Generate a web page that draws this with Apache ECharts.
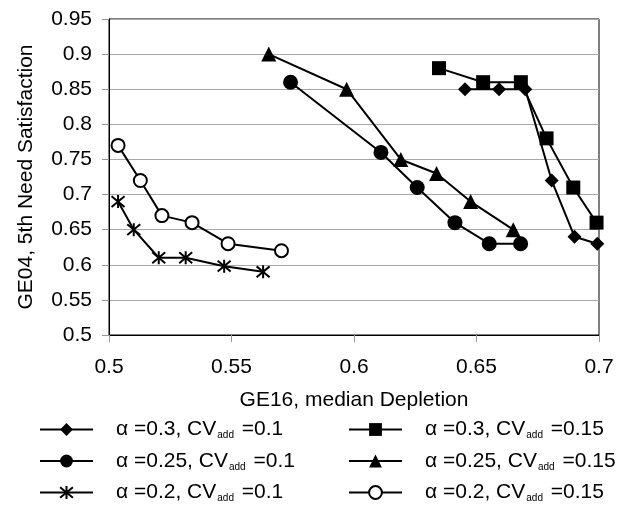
<!DOCTYPE html>
<html>
<head>
<meta charset="utf-8">
<script src="https://cdn.jsdelivr.net/npm/echarts@6/dist/echarts.min.js"></script>
<style>
html,body{margin:0;padding:0;background:#fff;}
#chart{width:629px;height:506px;}
</style>
</head>
<body>
<div id="chart"></div>
<script>
// ---- data ----
const xTicks = [0.5, 0.55, 0.6, 0.65, 0.7];
const yTicks = [0.5, 0.55, 0.6, 0.65, 0.7, 0.75, 0.8, 0.85, 0.9, 0.95];

const a03cv010_x = [0.6453, 0.6592, 0.6699, 0.6807, 0.690, 0.6993];
const a03cv010_y = [0.85, 0.85, 0.85, 0.72, 0.64, 0.63];

const a025cv010_x = [0.5741, 0.611, 0.6258, 0.6412, 0.6552, 0.668];
const a025cv010_y = [0.86, 0.76, 0.71, 0.66, 0.63, 0.63];

const a02cv010_x = [0.5037, 0.5101, 0.5203, 0.5313, 0.547, 0.5629];
const a02cv010_y = [0.69, 0.65, 0.61, 0.61, 0.598, 0.59];

const a03cv015_x = [0.6347, 0.6527, 0.6681, 0.6786, 0.6895, 0.699];
const a03cv015_y = [0.88, 0.86, 0.86, 0.78, 0.71, 0.66];

const a025cv015_x = [0.5652, 0.597, 0.6191, 0.6337, 0.6476, 0.665];
const a025cv015_y = [0.9, 0.85, 0.75, 0.73, 0.69, 0.65];

const a02cv015_x = [0.5037, 0.5128, 0.5216, 0.5339, 0.5486, 0.5704];
const a02cv015_y = [0.77, 0.72, 0.67, 0.66, 0.63, 0.62];

const alphaLabels = ['0.3', '0.25', '0.2', '0.3', '0.25', '0.2'];
const cvLabels = ['0.1', '0.1', '0.1', '0.15', '0.15', '0.15'];

const xName = 'GE16, median Depletion';
const yName = 'GE04, 5th Need Satisfaction';
// ---------------

const FONT = '"Liberation Sans", Arial, sans-serif';
const names = alphaLabels.map((a, i) => 'α =' + a + ', CVadd =' + cvLabels[i]);
const zip = (xs, ys) => xs.map((x, i) => [x, ys[i]]);

const starPath = 'path://M0,0L10,10M10,0L0,10M5,-1L5,11';

const styles = [
  {symbol: 'diamond', size: 14, fill: '#000', bw: 0},
  {symbol: 'circle', size: 15, fill: '#000', bw: 0},
  {symbol: starPath, size: 13, fill: '#000', bw: 2},
  {symbol: 'rect', size: 14, fill: '#000', bw: 0},
  {symbol: 'triangle', size: 15, fill: '#000', bw: 0},
  {symbol: 'circle', size: 13, fill: '#fff', bw: 2}
];
const datasets = [
  zip(a03cv010_x, a03cv010_y),
  zip(a025cv010_x, a025cv010_y),
  zip(a02cv010_x, a02cv010_y),
  zip(a03cv015_x, a03cv015_y),
  zip(a025cv015_x, a025cv015_y),
  zip(a02cv015_x, a02cv015_y)
];

const drawOrder = [3, 4, 5, 0, 1, 2];
const series = drawOrder.map(i => ({
  name: names[i],
  type: 'line',
  data: datasets[i],
  symbol: styles[i].symbol,
  symbolSize: styles[i].size,
  lineStyle: {color: '#000', width: 2},
  itemStyle: {color: styles[i].fill, borderColor: '#000', borderWidth: styles[i].bw},
  emphasis: {disabled: true},
  clip: false,
  z: 3
}));

const richText = {
  p: {width: 18, fontSize: 21, fontFamily: FONT},
  t: {fontSize: 21, fontFamily: FONT, color: '#000', lineHeight: 22},
  sub: {fontSize: 10, fontFamily: FONT, color: '#000', verticalAlign: 'bottom', lineHeight: 13, padding: [0, 2, 0, 1]}
};
const fmt = name => {
  const parts = name.split('CVadd');
  return '{p| }{t|' + parts[0] + 'CV}{sub|add}{t|' + parts[1] + '}';
};
const legendBase = {
  orient: 'vertical',
  top: 419,
  padding: 0,
  height: 87,
  itemWidth: 53,
  itemHeight: 16,
  itemGap: 10,
  selectedMode: false,
  formatter: fmt,
  textStyle: {rich: richText, color: '#000'}
};

const chart = echarts.init(document.getElementById('chart'), null, {renderer: 'canvas'});
chart.setOption({
  animation: false,
  backgroundColor: '#fff',
  grid: {left: 109, right: 30, top: 19, bottom: 171, show: true, borderColor: '#000', borderWidth: 1, containLabel: false},
  xAxis: {
    type: 'value',
    min: xTicks[0], max: xTicks[xTicks.length - 1], interval: 0.05,
    name: xName, nameLocation: 'middle', nameGap: 55,
    nameTextStyle: {fontSize: 21, fontFamily: FONT, color: '#000'},
    axisLine: {show: true, lineStyle: {color: '#000', width: 1}},
    axisTick: {show: true, length: 7, lineStyle: {color: '#999'}},
    axisLabel: {fontSize: 21, fontFamily: FONT, color: '#000', margin: 22,
      formatter: v => String(+v.toFixed(2))},
    splitLine: {show: false}
  },
  yAxis: {
    type: 'value',
    min: yTicks[0], max: yTicks[yTicks.length - 1], interval: 0.05,
    name: yName, nameLocation: 'middle', nameGap: 72, nameRotate: 90,
    nameTextStyle: {fontSize: 21, fontFamily: FONT, color: '#000'},
    axisLine: {show: true, lineStyle: {color: '#000', width: 1}},
    axisTick: {show: true, length: 7, lineStyle: {color: '#999'}},
    axisLabel: {fontSize: 21, fontFamily: FONT, color: '#000', margin: 17,
      formatter: v => String(+v.toFixed(2))},
    splitLine: {show: true, lineStyle: {color: '#a8a8a8', width: 1}}
  },
  legend: [
    Object.assign({}, legendBase, {left: 39, data: [names[0], names[1], names[2]]}),
    Object.assign({}, legendBase, {left: 348, data: [names[3], names[4], names[5]]})
  ],
  series: series
});
</script>
</body>
</html>
